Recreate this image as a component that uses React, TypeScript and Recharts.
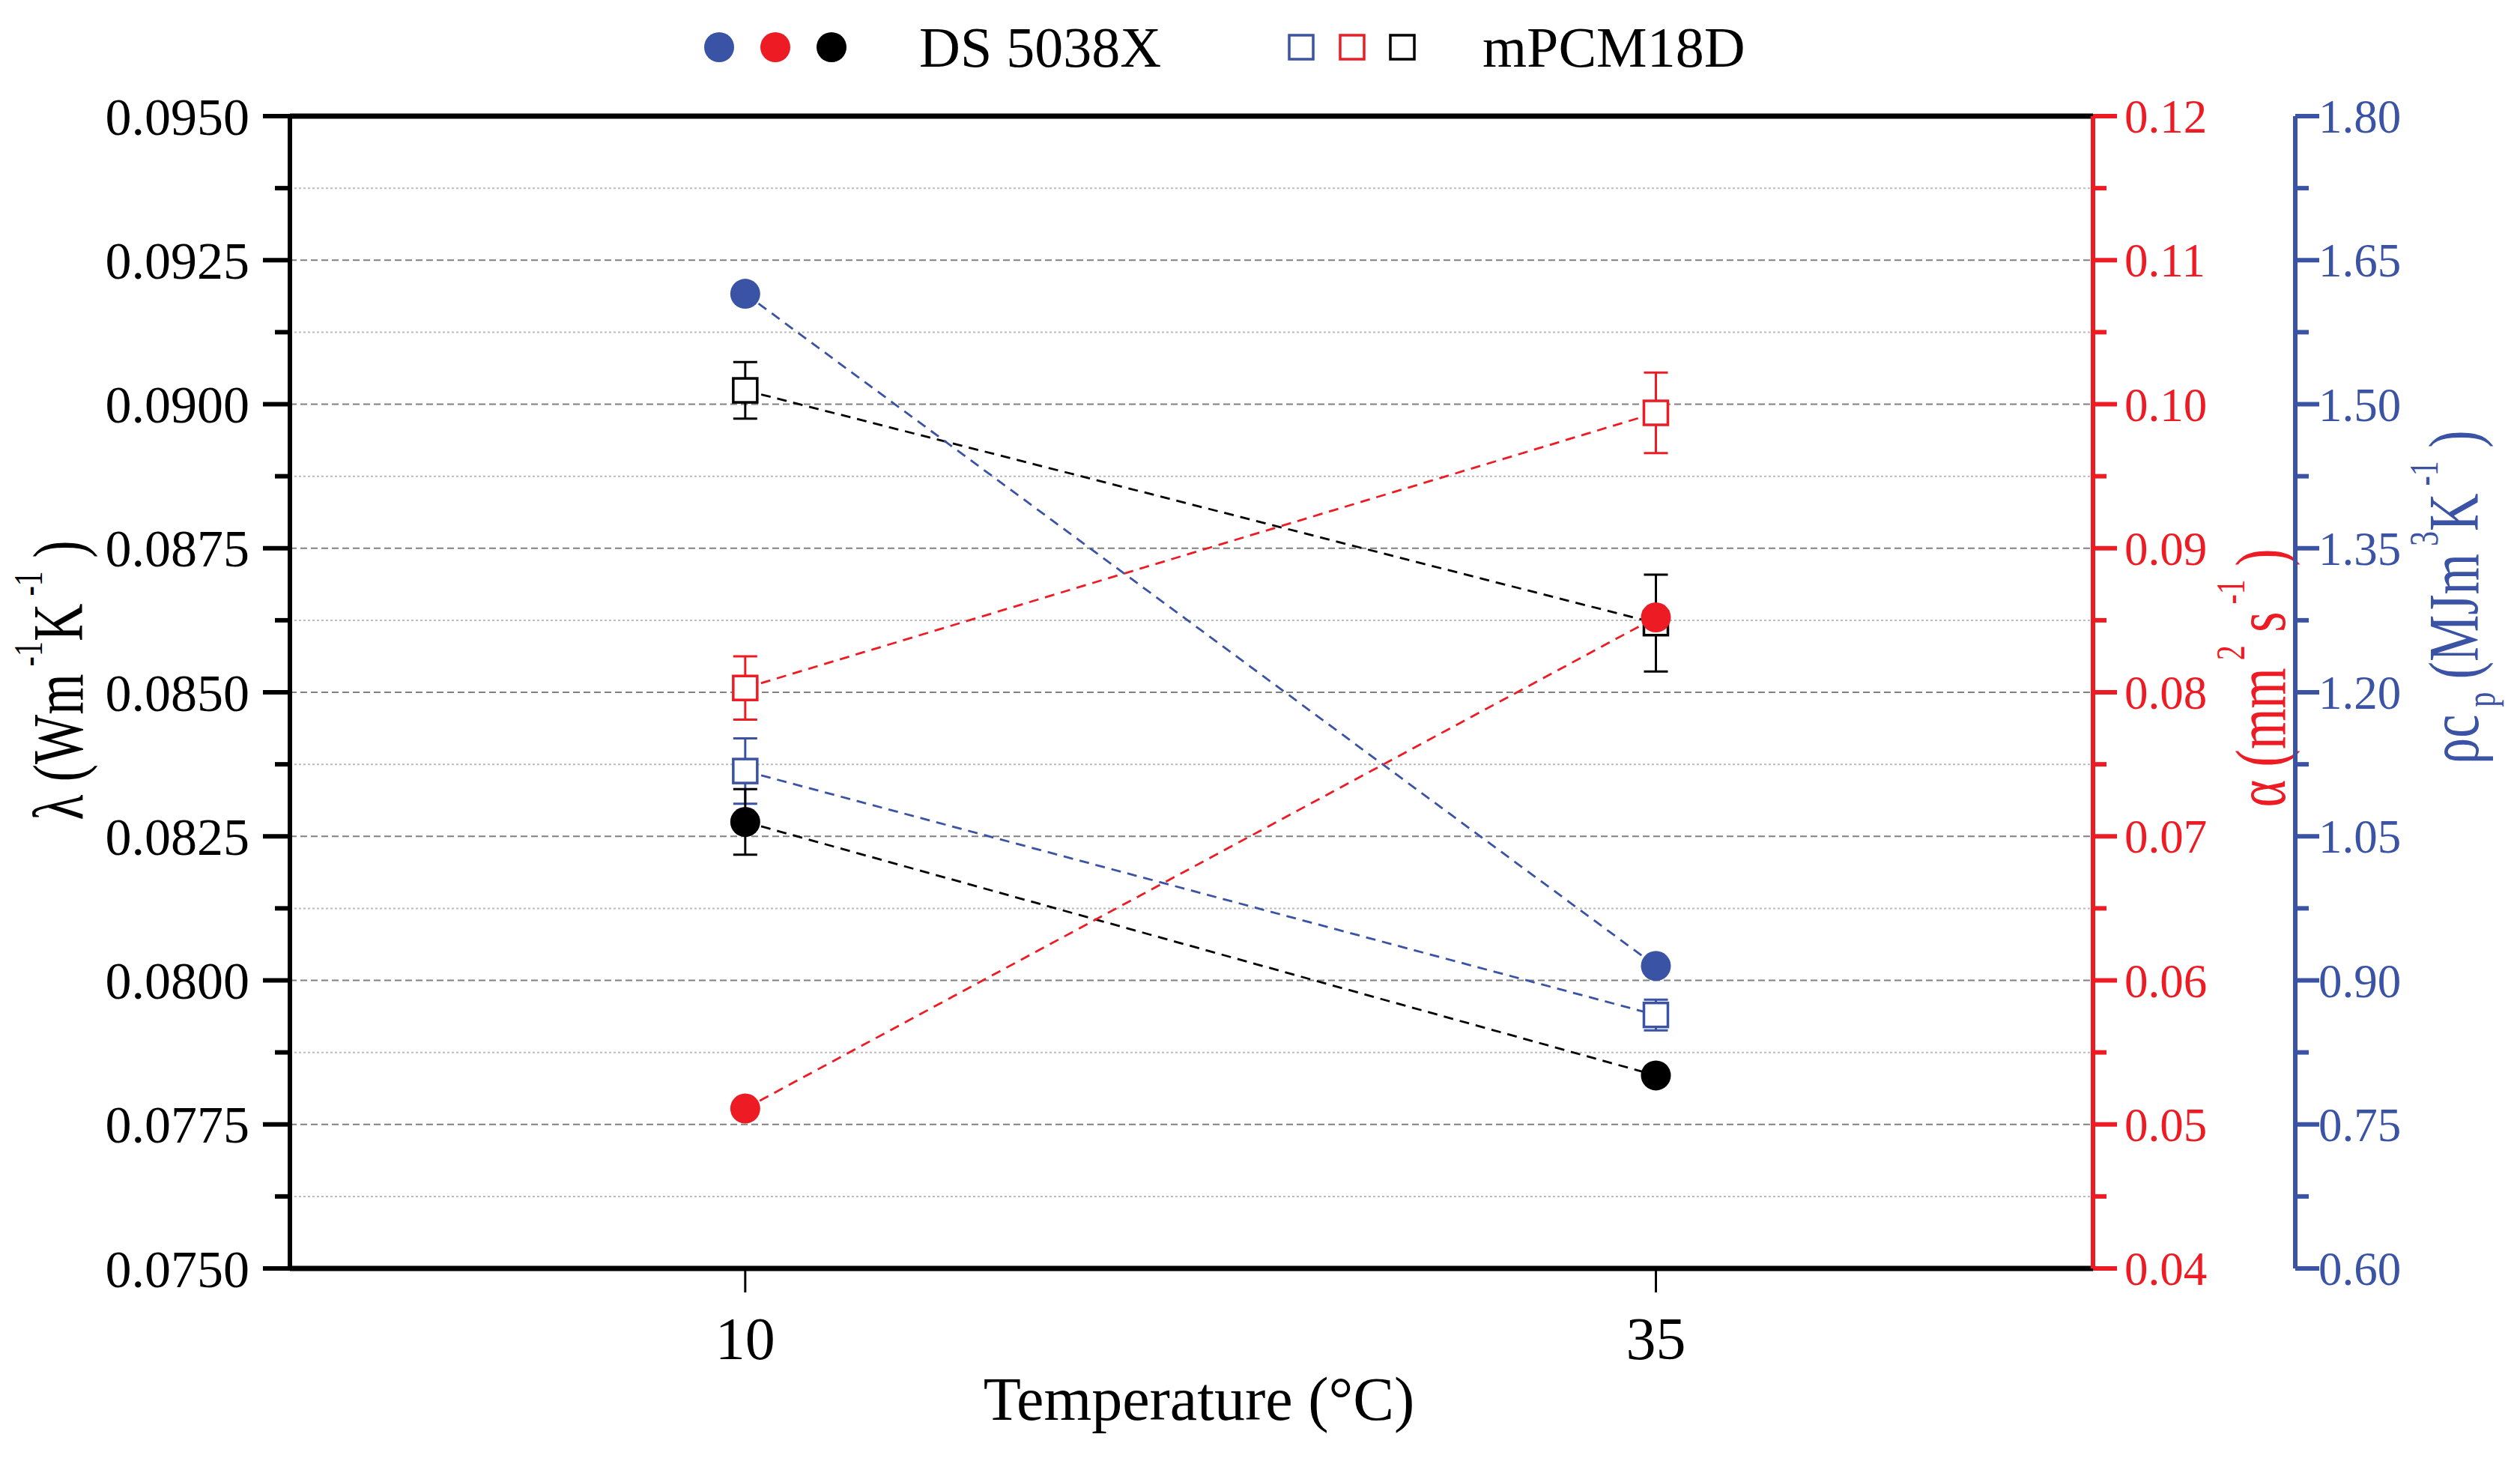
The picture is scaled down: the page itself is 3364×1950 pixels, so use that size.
import React from "react";
import {
  ComposedChart,
  Scatter,
  XAxis,
  YAxis,
  CartesianGrid,
  ErrorBar,
  ReferenceLine,
  Label,
} from "recharts";

const FONT = '"Liberation Serif", "Times New Roman", serif';
const RED = "#ed1c24";
const BLUE = "#3a53a4";
const BLACK = "#000000";

// temperatures (°C)
const temps = [10, 35];

// λ, thermal conductivity (W m-1 K-1) – left axis
const dsLambda = [0.08275, 0.07835];
const dsLambdaErr = [0.00057, 0.0001];
const mpLambda = [0.09024, 0.0862];
const mpLambdaErr = [0.00049, 0.00084];

// α, thermal diffusivity (mm2 s-1) – red axis
const dsAlpha = [0.0511, 0.0852];
const mpAlpha = [0.0803, 0.0994];
const mpAlphaErr = [0.0022, 0.0028];

// ρcp, volumetric heat capacity (MJ m-3 K-1) – blue axis
const dsRhoCp = [1.615, 0.915];
const mpRhoCp = [1.118, 0.864];
const mpRhoCpErr = [0.034, 0.016];

// axis ticks
const xTicks = [10, 35];
const leftTicks = [
  0.075, 0.07625, 0.0775, 0.07875, 0.08, 0.08125, 0.0825, 0.08375, 0.085,
  0.08625, 0.0875, 0.08875, 0.09, 0.09125, 0.0925, 0.09375, 0.095,
];
const leftLabels = [0.075, 0.0775, 0.08, 0.0825, 0.085, 0.0875, 0.09, 0.0925, 0.095];
const majorGrid = [0.0775, 0.08, 0.0825, 0.085, 0.0875, 0.09, 0.0925];
const minorGrid = [0.07625, 0.07875, 0.08125, 0.08375, 0.08625, 0.08875, 0.09125, 0.09375];
const redTicks = [
  0.04, 0.045, 0.05, 0.055, 0.06, 0.065, 0.07, 0.075, 0.08, 0.085, 0.09, 0.095,
  0.1, 0.105, 0.11, 0.115, 0.12,
];
const redLabels = [0.04, 0.05, 0.06, 0.07, 0.08, 0.09, 0.1, 0.11, 0.12];
const blueTicks = [
  0.6, 0.675, 0.75, 0.825, 0.9, 0.975, 1.05, 1.125, 1.2, 1.275, 1.35, 1.425,
  1.5, 1.575, 1.65, 1.725, 1.8,
];
const blueLabels = [0.6, 0.75, 0.9, 1.05, 1.2, 1.35, 1.5, 1.65, 1.8];

function toPoints(ys: number[], errs?: number[]) {
  return temps.map((t, i) => ({ x: t, y: ys[i], err: errs ? errs[i] : 0 }));
}

function isIn(v: number, list: number[]) {
  return list.some((l) => Math.abs(l - v) < 1e-9);
}

const circle = (color: string) => (p: any) =>
  <circle cx={p.cx} cy={p.cy} r={20} fill={color} />;

const square = (color: string) => (p: any) =>
  <rect x={p.cx - 16} y={p.cy - 16} width={32} height={32} fill="#fff" stroke={color} strokeWidth={3.5} />;

const dashLine = (color: string) => ({ stroke: color, strokeWidth: 2.8, strokeDasharray: "13 9" });

function LeftTick(p: any) {
  const { x, y, payload } = p;
  const major = isIn(payload.value, leftLabels);
  return (
    <g>
      <line x1={x - (major ? 36 : 20)} x2={x} y1={y} y2={y} stroke={BLACK} strokeWidth={6} />
      {major && (
        <text x={x - 54} y={y} dy="0.35em" textAnchor="end" fontSize={70} fontFamily={FONT} fill={BLACK}>
          {payload.value.toFixed(4)}
        </text>
      )}
    </g>
  );
}

function rightTick(color: string, labels: number[], gap: number) {
  return (p: any) => {
    const { x, y, payload } = p;
    const major = isIn(payload.value, labels);
    return (
      <g>
        <line x1={x} x2={x + (major ? 32 : 18)} y1={y} y2={y} stroke={color} strokeWidth={6} />
        {major && (
          <text x={x + gap} y={y} dy="0.35em" textAnchor="start" fontSize={63} fontFamily={FONT} fill={color}>
            {payload.value.toFixed(2)}
          </text>
        )}
      </g>
    );
  };
}

function BottomTick(p: any) {
  const { x, y, payload } = p;
  return (
    <g>
      <line x1={x} x2={x} y1={y} y2={y + 32} stroke={BLACK} strokeWidth={3} />
      <text x={x} y={y + 121} textAnchor="middle" fontSize={80} fontFamily={FONT} fill={BLACK}>
        {payload.value}
      </text>
    </g>
  );
}

// rotated title, glyphs stretched across the reading direction like the original
function VTitle({ x, y, color, children }: { x: number; y: number; color: string; children: React.ReactNode }) {
  return (
    <text transform={`translate(${x}, ${y}) rotate(-90) scale(1, 1.35)`} x={0} y={0} textAnchor="middle"
      fontSize={70} fontFamily={FONT} fill={color}>
      {children}
    </text>
  );
}

const SUP = 40;

function LeftTitle(p: any) {
  const vb = p.viewBox;
  return (
    <VTitle x={vb.x + 110} y={908} color={BLACK}>
      <tspan>λ (Wm</tspan>
      <tspan dy={-40} fontSize={SUP}> -1</tspan>
      <tspan dy={40}>K</tspan>
      <tspan dy={-40} fontSize={SUP}> -1</tspan>
      <tspan dy={40}> )</tspan>
    </VTitle>
  );
}

function RedTitle(p: any) {
  const vb = p.viewBox;
  return (
    <VTitle x={vb.x + 256} y={905} color={RED}>
      <tspan>α (mm</tspan>
      <tspan dy={-40} fontSize={SUP}> 2</tspan>
      <tspan dy={40}> s</tspan>
      <tspan dy={-40} fontSize={SUP}> -1</tspan>
      <tspan dy={40}> )</tspan>
    </VTitle>
  );
}

function BlueTitle(p: any) {
  const vb = p.viewBox;
  return (
    <VTitle x={vb.x + 244} y={797} color={BLUE}>
      <tspan>ρc</tspan>
      <tspan dy={16} fontSize={SUP}> p</tspan>
      <tspan dy={-16}>  (MJm</tspan>
      <tspan dy={-40} fontSize={SUP}> 3</tspan>
      <tspan dy={40}>K</tspan>
      <tspan dy={-40} fontSize={SUP}> -1</tspan>
      <tspan dy={40}> )</tspan>
    </VTitle>
  );
}

function XTitle(p: any) {
  const vb = p.viewBox;
  return (
    <text x={vb.x + vb.width / 2 + 10} y={vb.y + 202} textAnchor="middle" fontSize={82}
      fontFamily={FONT} fill={BLACK}>
      Temperature (°C)
    </text>
  );
}

function TopLegend() {
  return (
    <svg width={3364} height={140} style={{ position: "absolute", left: 0, top: 0 }}>
      <circle cx={960} cy={63} r={20} fill={BLUE} />
      <circle cx={1035} cy={63} r={20} fill={RED} />
      <circle cx={1110} cy={63} r={20} fill={BLACK} />
      <text x={1227} y={89} fontSize={76} fontFamily={FONT} fill={BLACK}>DS 5038X</text>
      <rect x={1721} y={47} width={32} height={32} fill="#fff" stroke={BLUE} strokeWidth={3.5} />
      <rect x={1789} y={47} width={32} height={32} fill="#fff" stroke={RED} strokeWidth={3.5} />
      <rect x={1856} y={47} width={32} height={32} fill="#fff" stroke={BLACK} strokeWidth={3.5} />
      <text x={1979} y={89} fontSize={76} fontFamily={FONT} fill={BLACK}>mPCM18D</text>
    </svg>
  );
}

export default function App() {
  return (
    <div style={{ position: "absolute", left: 0, top: 0, width: 3364, height: 1950, background: "#fff" }}>
      <ComposedChart width={3364} height={1950} margin={{ top: 155, right: 0, bottom: 0, left: 0 }}>
        <CartesianGrid yAxisId="l" vertical={false} horizontalValues={minorGrid}
          stroke="#bcbcbc" strokeWidth={2} strokeDasharray="3 3" />
        <CartesianGrid yAxisId="l" vertical={false} horizontalValues={majorGrid}
          stroke="#808080" strokeWidth={2.2} strokeDasharray="9 5" />
        <XAxis type="number" dataKey="x" domain={[-2.5, 47]} ticks={xTicks} interval={0}
          allowDataOverflow height={257} tickSize={0} tickMargin={0} tick={BottomTick}
          axisLine={{ stroke: BLACK, strokeWidth: 7 }}>
          <Label content={XTitle} />
        </XAxis>
        <YAxis yAxisId="l" dataKey="y" orientation="left" width={387} domain={[0.075, 0.095]} ticks={leftTicks}
          interval={0} allowDataOverflow tickSize={0} tickMargin={0} tick={LeftTick}
          axisLine={{ stroke: BLACK, strokeWidth: 6 }}>
          <Label content={LeftTitle} />
        </YAxis>
        <YAxis yAxisId="r1" dataKey="y" orientation="right" width={270} domain={[0.04, 0.12]} ticks={redTicks}
          interval={0} allowDataOverflow tickSize={0} tickMargin={0} tick={rightTick(RED, redLabels, 42)}
          axisLine={{ stroke: RED, strokeWidth: 6 }}>
          <Label content={RedTitle} />
        </YAxis>
        <YAxis yAxisId="r2" dataKey="y" orientation="right" width={300} domain={[0.6, 1.8]} ticks={blueTicks}
          interval={0} allowDataOverflow tickSize={0} tickMargin={0} tick={rightTick(BLUE, blueLabels, 31)}
          axisLine={{ stroke: BLUE, strokeWidth: 6 }}>
          <Label content={BlueTitle} />
        </YAxis>
        <ReferenceLine yAxisId="l" y={0.095} stroke={BLACK} strokeWidth={7} />

        <Scatter yAxisId="l" data={toPoints(mpLambda, mpLambdaErr)} line={dashLine(BLACK)}
          shape={square(BLACK)} isAnimationActive={false}>
          <ErrorBar dataKey="err" direction="y" width={16} stroke={BLACK} strokeWidth={3} />
        </Scatter>
        <Scatter yAxisId="r2" data={toPoints(mpRhoCp, mpRhoCpErr)} line={dashLine(BLUE)}
          shape={square(BLUE)} isAnimationActive={false}>
          <ErrorBar dataKey="err" direction="y" width={16} stroke={BLUE} strokeWidth={3} />
        </Scatter>
        <Scatter yAxisId="r1" data={toPoints(mpAlpha, mpAlphaErr)} line={dashLine(RED)}
          shape={square(RED)} isAnimationActive={false}>
          <ErrorBar dataKey="err" direction="y" width={16} stroke={RED} strokeWidth={3} />
        </Scatter>
        <Scatter yAxisId="l" data={toPoints(dsLambda, dsLambdaErr)} line={dashLine(BLACK)}
          shape={circle(BLACK)} isAnimationActive={false}>
          <ErrorBar dataKey="err" direction="y" width={16} stroke={BLACK} strokeWidth={3} />
        </Scatter>
        <Scatter yAxisId="r2" data={toPoints(dsRhoCp)} line={dashLine(BLUE)}
          shape={circle(BLUE)} isAnimationActive={false} />
        <Scatter yAxisId="r1" data={toPoints(dsAlpha)} line={dashLine(RED)}
          shape={circle(RED)} isAnimationActive={false} />
      </ComposedChart>
      <TopLegend />
    </div>
  );
}
